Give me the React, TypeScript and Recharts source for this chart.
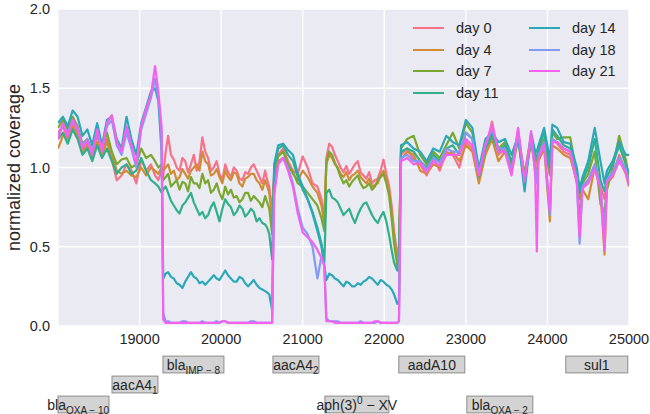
import React from "react";
import {
  LineChart,
  Line,
  XAxis,
  YAxis,
  CartesianGrid,
  ComposedChart,
  ReferenceArea,
} from "recharts";

const positions = [
  18000, 18060, 18120, 18180, 18240, 18300, 18360, 18420, 18480, 18540, 18600, 18660, 18720, 18780, 18840, 18900, 18960, 19020, 19080, 19140, 19190, 19230, 19270,
  19290, 19320, 19350, 19385, 19420, 19455, 19490, 19525, 19560, 19595, 19630, 19665, 19700, 19735, 19770, 19805, 19840, 19875, 19910, 19945,
  19980, 20015, 20050, 20085, 20120, 20155, 20190, 20225, 20260, 20295, 20330, 20365, 20400, 20435, 20470, 20505, 20540, 20565, 20590, 20625,
  20650, 20700, 20760, 20820, 20880, 20940, 21000, 21060, 21120, 21180, 21230, 21265,
  21290, 21325, 21360, 21395, 21430, 21465, 21500, 21535, 21570, 21605, 21640, 21675, 21710, 21745, 21780, 21815, 21850, 21885, 21920, 21955,
  21990, 22025, 22060, 22090, 22120, 22160, 22180,
  22205, 22280, 22360, 22440, 22520, 22600, 22680, 22760, 22840, 22920, 23000, 23080, 23160, 23240, 23320, 23400, 23480, 23560, 23640, 23720, 23800,
  23850, 23870, 23890, 23960, 24030, 24060, 24120, 24200, 24280, 24360, 24395, 24430, 24500, 24580, 24650, 24700, 24730, 24800, 24880, 24960, 25000,
];

const day0 = [
  1.22, 1.26, 1.18, 1.28, 1.22, 1.12, 1.16, 1.08, 1.2, 1.1, 1.18, 1.05, 0.92, 0.95, 1.02, 0.98, 0.9, 1.05, 0.98, 1.02, 0.95, 0.92, 0.98,
  0.95, 1.1, 1.2, 1.08, 1.05, 1.0, 0.98, 1.06, 1.04, 0.97, 1.02, 1.08, 0.98, 1.04, 1.19, 1.1, 1.06, 0.98, 1.0, 1.04,
  0.96, 0.92, 1.02, 0.97, 0.94, 1.0, 0.98, 0.93, 0.92, 0.97, 0.96, 1.0, 1.02, 0.98, 0.94, 0.9, 0.98, 0.92, 0.88, 0.72,
  0.95, 1.08, 1.12, 1.04, 0.98, 0.96, 1.07, 1.0, 0.9, 0.88, 0.8, 0.68,
  1.06, 1.15, 1.13, 1.08, 1.04, 1.0, 0.97, 1.01, 0.96, 0.99, 1.02, 1.04, 0.97, 0.95, 0.93, 0.97, 0.9, 0.92, 0.93, 0.98,
  1.05, 0.96, 0.88, 0.76, 0.6, 0.45, 0.5,
  1.08, 1.12, 1.05, 1.02, 0.95, 1.06, 0.98, 1.1, 1.08, 1.0, 1.16, 1.12, 0.92, 1.1, 1.29, 1.08, 1.12, 0.98, 1.24, 0.92, 1.18,
  1.05, 1.02, 1.08, 1.16, 0.95, 1.18, 1.15, 1.1, 1.08, 0.9, 0.82, 0.88, 0.92, 1.02, 0.88, 0.8, 0.92, 0.96, 1.08, 0.98, 0.9,
];

const day4 = [
  1.12, 1.2, 1.22, 1.26, 1.2, 1.1, 1.14, 1.05, 1.16, 1.08, 1.16, 1.08, 0.98, 0.96, 0.98, 0.95, 0.94, 1.0, 0.95, 1.0, 0.98, 0.96, 1.0,
  0.98, 1.0, 1.02, 0.96, 0.98, 0.92, 0.94, 0.99, 0.96, 0.93, 0.98, 1.0, 1.02, 0.98, 1.1, 1.04, 1.02, 0.95, 0.96, 0.99,
  0.94, 0.9, 0.98, 0.94, 0.92, 0.97, 0.96, 0.9, 0.88, 0.93, 0.94, 0.96, 0.96, 0.92, 0.9, 0.86, 0.92, 0.88, 0.84, 0.68,
  0.92, 1.04, 1.06, 1.02, 0.96, 0.92, 0.98, 0.94, 0.88, 0.84, 0.76, 0.64,
  1.02, 1.08, 1.06, 1.02, 1.0, 0.96, 0.94, 0.97, 0.92, 0.95, 0.96, 0.98, 0.94, 0.92, 0.9, 0.93, 0.88, 0.89, 0.9, 0.95,
  0.98, 0.92, 0.84, 0.72, 0.56, 0.42, 0.46,
  1.05, 1.1, 1.08, 0.98, 0.96, 1.02, 1.0, 1.08, 1.1, 1.04, 1.14, 1.1, 0.9, 1.08, 1.18, 1.04, 1.1, 0.96, 1.18, 0.94, 1.15,
  1.0, 0.98, 1.04, 1.12, 0.66, 1.14, 1.12, 1.08, 1.06, 0.92, 0.8, 0.86, 0.8, 1.0, 0.86, 0.45, 0.9, 0.94, 1.05, 0.96, 0.88,
];

const day7 = [
  1.25, 1.3, 1.24, 1.32, 1.26, 1.15, 1.18, 1.1, 1.22, 1.12, 1.22, 1.1, 1.02, 1.05, 1.06, 1.0, 1.02, 1.12, 1.06, 1.08, 1.04, 1.0, 1.02,
  0.92, 0.94, 0.96, 0.88, 0.9, 0.92, 0.86, 0.91, 0.9, 0.85, 0.94, 0.9, 0.9, 0.87, 0.96, 0.9, 0.92, 0.84, 0.86, 0.9,
  0.84, 0.8, 0.88, 0.83, 0.86, 0.81, 0.82, 0.78, 0.8, 0.84, 0.84, 0.79, 0.82, 0.8, 0.78, 0.75, 0.82, 0.78, 0.74, 0.58,
  0.96, 1.07, 1.1, 1.02, 0.97, 0.9, 0.88, 0.84, 0.8, 0.76, 0.68, 0.6,
  1.04, 1.1, 1.08, 1.03, 0.99, 0.94, 0.9, 0.92, 0.88, 0.91, 0.93, 0.95, 0.9, 0.87, 0.88, 0.9, 0.86, 0.88, 0.92, 0.94,
  0.96, 0.9, 0.82, 0.68, 0.52, 0.38, 0.42,
  1.12, 1.18, 1.2, 1.08, 1.02, 1.1, 1.06, 1.14, 1.22, 1.12, 1.28, 1.22, 0.98, 1.14, 1.22, 1.12, 1.16, 1.02, 1.2, 0.96, 1.2,
  1.06, 1.04, 1.1, 1.18, 0.96, 1.22, 1.18, 1.19, 1.19, 0.96, 0.65, 0.9, 0.96, 1.1, 0.77, 0.72, 0.86, 1.0, 1.2, 1.05, 0.94,
];

const day11 = [
  1.18, 1.22, 1.15, 1.24, 1.18, 1.08, 1.12, 1.04, 1.14, 1.06, 1.12, 1.04, 0.96, 1.0, 1.02, 0.96, 0.98, 1.06, 0.98, 0.92, 0.9, 0.88, 0.84,
  0.86, 0.88, 0.84, 0.79, 0.76, 0.73, 0.71, 0.76, 0.78, 0.81, 0.84, 0.78, 0.74, 0.7, 0.72, 0.68, 0.7, 0.75, 0.78, 0.72,
  0.66, 0.74, 0.8, 0.77, 0.75, 0.7, 0.72, 0.76, 0.74, 0.69, 0.71, 0.74, 0.72, 0.66, 0.68, 0.65, 0.64, 0.62, 0.58, 0.42,
  1.0, 1.12, 1.14, 1.08, 1.04, 0.94, 0.86, 0.8, 0.72, 0.62, 0.52, 0.4,
  0.84, 0.86, 0.81, 0.8, 0.78, 0.74, 0.7, 0.72, 0.74, 0.69, 0.65, 0.7, 0.74, 0.77, 0.78, 0.74, 0.7, 0.67, 0.65, 0.69,
  0.72, 0.66, 0.57, 0.48, 0.4, 0.35, 0.38,
  1.1, 1.12, 1.1, 1.04, 1.0, 1.08, 1.04, 1.12, 1.14, 1.08, 1.22, 1.18, 0.94, 1.12, 1.2, 1.1, 1.14, 1.04, 1.18, 0.9, 1.2,
  1.08, 1.06, 1.12, 1.22, 1.0, 1.24, 1.2, 1.14, 1.12, 0.98, 0.84, 0.92, 1.0, 1.18, 0.92, 0.85, 0.94, 1.02, 1.14, 1.02, 0.96,
];

const day14 = [
  1.28, 1.32, 1.26, 1.36, 1.32, 1.2, 1.24, 1.14, 1.28, 1.14, 1.3, 1.32, 1.18, 1.12, 1.32, 1.18, 1.08, 1.28, 1.38, 1.48, 1.5, 1.42, 1.1,
  0.3, 0.33, 0.34, 0.31, 0.3, 0.27, 0.26, 0.24, 0.28, 0.31, 0.34, 0.31, 0.3, 0.27, 0.28, 0.26, 0.28, 0.3, 0.32, 0.3,
  0.29, 0.32, 0.35, 0.32, 0.3, 0.28, 0.28, 0.31, 0.3, 0.27, 0.25, 0.27, 0.29, 0.26, 0.24, 0.23, 0.22, 0.21, 0.2, 0.1,
  1.02, 1.14, 1.15, 1.11, 1.08, 0.96, 0.88, 0.8, 0.71, 0.6, 0.5, 0.38,
  0.29, 0.33, 0.32, 0.3, 0.29, 0.27, 0.25, 0.28, 0.27, 0.25, 0.25, 0.27, 0.26, 0.28, 0.29, 0.31, 0.3, 0.28, 0.26, 0.29,
  0.28, 0.26, 0.25, 0.23, 0.2, 0.14, 0.16,
  1.14, 1.16, 1.12, 1.1, 1.04, 1.12, 1.1, 1.2, 1.16, 1.14, 1.3, 1.25, 0.99, 1.18, 1.22, 1.16, 1.18, 1.08, 1.2, 0.85, 1.22,
  1.1, 1.1, 1.14, 1.25, 1.05, 1.27, 1.25, 1.16, 1.15, 1.0, 0.86, 0.94, 1.04, 1.25, 1.04, 0.9, 0.98, 1.04, 1.16, 1.08, 1.08,
];

const day18 = [
  1.2, 1.26, 1.22, 1.3, 1.24, 1.14, 1.18, 1.1, 1.22, 1.12, 1.26, 1.3, 1.14, 1.08, 1.22, 1.12, 1.0, 1.24, 1.34, 1.44, 1.56, 1.44, 1.2,
  0.08, 0.03, 0.03, 0.02, 0.02, 0.02, 0.02, 0.03, 0.03, 0.02, 0.02, 0.02, 0.02, 0.02, 0.03, 0.02, 0.02, 0.02, 0.02, 0.03,
  0.02, 0.03, 0.03, 0.02, 0.02, 0.02, 0.02, 0.02, 0.02, 0.02, 0.02, 0.03, 0.03, 0.02, 0.02, 0.02, 0.02, 0.02, 0.02, 0.02,
  0.85, 1.02, 1.06, 1.0, 0.9, 0.74, 0.62, 0.58, 0.5, 0.3, 0.44, 0.38,
  0.05, 0.03, 0.03, 0.03, 0.03, 0.02, 0.02, 0.02, 0.02, 0.02, 0.02, 0.02, 0.03, 0.02, 0.02, 0.02, 0.02, 0.02, 0.03, 0.02,
  0.02, 0.02, 0.02, 0.02, 0.02, 0.02, 0.03,
  1.06, 1.08, 1.04, 1.04, 0.99, 1.06, 1.03, 1.12, 1.1, 1.1, 1.22, 1.18, 0.96, 1.15, 1.24, 1.12, 1.12, 0.98, 1.22, 0.92, 1.2,
  0.98, 0.9, 1.08, 1.16, 0.7, 1.18, 1.16, 1.12, 1.1, 0.93, 0.52, 0.88, 0.92, 1.02, 0.88, 0.6, 0.92, 0.97, 1.06, 0.99, 0.91,
];

const day21 = [
  1.18, 1.28, 1.2, 1.3, 1.25, 1.12, 1.17, 1.08, 1.24, 1.1, 1.28, 1.33, 1.16, 1.1, 1.26, 1.14, 1.02, 1.26, 1.37, 1.46, 1.64, 1.48, 1.26,
  0.04, 0.02, 0.02, 0.02, 0.02, 0.02, 0.02, 0.02, 0.02, 0.02, 0.02, 0.02, 0.02, 0.02, 0.02, 0.02, 0.02, 0.02, 0.02, 0.02,
  0.02, 0.03, 0.03, 0.02, 0.02, 0.02, 0.02, 0.02, 0.02, 0.02, 0.02, 0.02, 0.02, 0.02, 0.02, 0.02, 0.02, 0.02, 0.02, 0.02,
  0.82, 1.03, 1.06, 0.98, 0.88, 0.71, 0.59, 0.56, 0.53, 0.48, 0.43, 0.38,
  0.03, 0.03, 0.03, 0.02, 0.02, 0.02, 0.02, 0.02, 0.02, 0.02, 0.02, 0.02, 0.02, 0.02, 0.02, 0.02, 0.02, 0.03, 0.03, 0.02,
  0.02, 0.02, 0.02, 0.02, 0.02, 0.02, 0.03,
  1.04, 1.06, 1.02, 1.03, 0.97, 1.04, 1.01, 1.08, 1.08, 1.08, 1.18, 1.14, 0.95, 1.14, 1.27, 1.1, 1.1, 0.95, 1.25, 0.91, 1.23,
  0.95, 0.47, 1.06, 1.14, 0.73, 1.16, 1.16, 1.12, 1.1, 0.91, 0.56, 0.87, 0.9, 0.99, 0.87, 0.48, 0.91, 0.95, 1.04, 0.97, 0.89,
];

const seriesNames = ["day 0", "day 4", "day 7", "day 11", "day 14", "day 18", "day 21"];
const seriesValues = [day0, day4, day7, day11, day14, day18, day21];
const seriesColors = ["#f77189", "#d08c34", "#7aa82f", "#2fb08a", "#2aa8b8", "#8399f2", "#f561ee"];

const xTicks = [19000, 20000, 21000, 22000, 23000, 24000, 25000];
const yTicks = [0, 0.5, 1, 1.5, 2];

// genes below the plot
const geneNames = ["bla", "aacA4", "bla", "aacA4", "aph(3)", "aadA10", "bla", "sul1"];
const geneSubs = ["OXA − 10", "1", "IMP − 8", "2", "", "", "OXA − 2", ""];
const geneSups = ["", "", "", "", "0", "", "", ""];
const geneTails = ["", "", "", "", " − XV", "", "", ""];
const geneStarts = [17870, 18662, 19287, 20635, 21272, 22178, 23012, 24225];
const geneEnds = [18625, 19225, 20034, 21199, 22056, 22987, 23821, 24985];
const geneRows = [2, 1, 0, 0, 2, 0, 2, 0];

const rows = positions.map((p, i) => {
  const r: Record<string, number> = { pos: p };
  seriesValues.forEach((s, k) => (r["s" + k] = s[i]));
  return r;
});

const genes = geneNames.map((n, i) => ({
  name: n,
  sub: geneSubs[i],
  sup: geneSups[i],
  tail: geneTails[i],
  start: geneStarts[i],
  end: geneEnds[i],
  row: geneRows[i],
}));

const W = 650;
const PLOT_LEFT = 58;
const PLOT_RIGHT_MARGIN = 21;
const TEXT = "#262626";
const FONT = '"Liberation Sans", Arial, sans-serif';

function geneShape(g: any) {
  return (props: any) => {
    const { x, y, width, height } = props;
    const left = Math.max(x, PLOT_LEFT);
    const right = x + width;
    const cx = x + width / 2;
    return (
      <g>
        <rect x={left} y={y} width={right - left} height={height} fill="#d3d3d3" stroke="#8c8c8c" strokeWidth={1} />
        <text x={cx} y={y + height / 2 + 5} textAnchor="middle" fontSize={14} fill={TEXT} fontFamily={FONT}>
          <tspan>{g.name}</tspan>
          {g.sub ? (
            <tspan fontSize={10} dy={4}>
              {g.sub}
            </tspan>
          ) : null}
          {g.sup ? (
            <tspan fontSize={10} dy={-6}>
              {g.sup}
            </tspan>
          ) : null}
          {g.tail ? <tspan dy={6}>{g.tail}</tspan> : null}
        </text>
      </g>
    );
  };
}

function YLabel(props: any) {
  const vb = props.viewBox || { x: 18, y: 9, height: 317 };
  const x = vb.x - 4;
  const y = vb.y + vb.height / 2;
  return (
    <text x={x} y={y} transform={`rotate(-90, ${x}, ${y})`} textAnchor="middle" dominantBaseline="central" fontSize={18} fill={TEXT}>
      normalized coverage
    </text>
  );
}

export default function App() {
  const order = [0, 4, 1, 5, 2, 6, 3];
  return (
    <div style={{ position: "fixed", left: 0, top: 0, width: W, height: 414, background: "#fff", fontFamily: FONT, overflow: "hidden" }}>
      <LineChart width={W} height={414} data={rows} margin={{ top: 9, right: PLOT_RIGHT_MARGIN, bottom: 58, left: 18 }}>
        <CartesianGrid fill="#eaeaf2" stroke="#ffffff" strokeWidth={1.3} />
        <XAxis
          dataKey="pos"
          type="number"
          domain={[18000, 25000]}
          ticks={xTicks}
          allowDataOverflow
          axisLine={false}
          tickLine={false}
          tick={{ fontSize: 14.5, fill: TEXT }}
          height={30}
        />
        <YAxis
          type="number"
          domain={[0, 2]}
          ticks={yTicks}
          allowDataOverflow
          axisLine={false}
          tickLine={false}
          width={40}
          tick={{ fontSize: 14.5, fill: TEXT }}
          tickFormatter={(v: number) => v.toFixed(1)}
          label={<YLabel />}
        />
        {seriesNames.map((n, k) => (
          <Line
            key={n}
            dataKey={"s" + k}
            name={n}
            type="linear"
            stroke={seriesColors[k]}
            strokeWidth={2.2}
            strokeLinejoin="round"
            dot={false}
            isAnimationActive={false}
          />
        ))}
      </LineChart>

      <div
        style={{
          position: "absolute",
          left: 413,
          top: 17,
          display: "grid",
          gridTemplateColumns: "116px 116px",
          gridAutoRows: "21.7px",
          fontSize: 14.5,
          color: TEXT,
        }}
      >
        {order.map((k) => (
          <div key={k} style={{ display: "flex", alignItems: "center", height: 21.7 }}>
            <span style={{ display: "inline-block", width: 31, height: 2, background: seriesColors[k], marginRight: 12 }} />
            <span>{seriesNames[k]}</span>
          </div>
        ))}
      </div>

      <div style={{ position: "absolute", left: 0, top: 350 }}>
        <ComposedChart width={W} height={64} data={genes} margin={{ top: 0, right: PLOT_RIGHT_MARGIN, bottom: 0, left: PLOT_LEFT }}>
          <XAxis dataKey="start" type="number" domain={[18000, 25000]} allowDataOverflow hide />
          <YAxis type="number" domain={[-0.725, 2.475]} reversed allowDataOverflow hide />
          {genes.map((g, i) => (
            <ReferenceArea
              key={i}
              x1={g.start}
              x2={g.end}
              y1={g.row - 0.42}
              y2={g.row + 0.42}
              ifOverflow="visible"
              shape={geneShape(g)}
            />
          ))}
        </ComposedChart>
      </div>
    </div>
  );
}
